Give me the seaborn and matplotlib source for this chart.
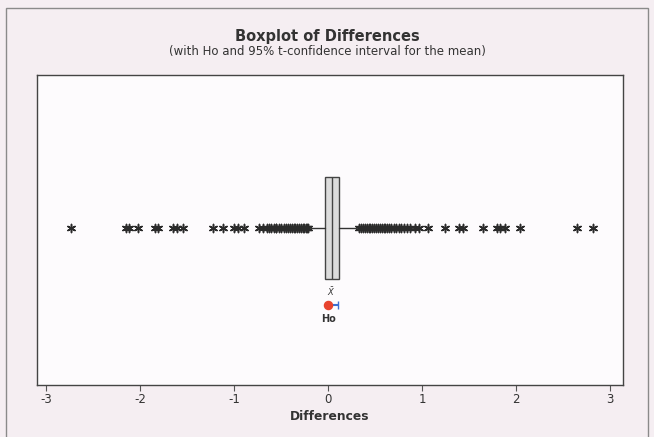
# plot.py
# Minitab-style boxplot of differences, with Ho and a 95% t-confidence interval for the mean.

import numpy as np
import pandas as pd
import seaborn as sns
import matplotlib.pyplot as plt
from matplotlib.patches import Rectangle

# --- data ---
box_q1 = -0.03
box_median = 0.04
box_q3 = 0.12
whisker_low = -0.18
whisker_high = 0.30

mean_diff = 0.057
ci_low = 0.013
ci_high = 0.102
h0_value = 0.0

low_outliers = [-2.74, -2.15, -2.12, -2.02, -1.84, -1.81, -1.65, -1.61, -1.55,
                -1.23, -1.12, -1.00, -0.96, -0.90, -0.74, -0.69,
                -0.65, -0.63, -0.61, -0.58, -0.56, -0.55, -0.52, -0.50, -0.47,
                -0.45, -0.43, -0.41, -0.38, -0.36, -0.35, -0.33, -0.31, -0.29,
                -0.27, -0.26, -0.24, -0.22, -0.21]
high_outliers = [0.33, 0.35, 0.37, 0.39, 0.41, 0.43, 0.45, 0.47, 0.49, 0.51,
                 0.53, 0.55, 0.57, 0.59, 0.61, 0.63, 0.65, 0.67, 0.70, 0.72,
                 0.75, 0.78, 0.81, 0.84, 0.87,
                 0.93, 0.97, 1.06, 1.24, 1.39, 1.44, 1.65, 1.80, 1.83, 1.88,
                 2.04, 2.65, 2.82]
x_ticks = [-3, -2, -1, 0, 1, 2, 3]

title = "Boxplot of Differences"
subtitle = "(with Ho and 95% t-confidence interval for the mean)"
x_label = "Differences"

outliers = pd.DataFrame({"diff": low_outliers + high_outliers})

# --- styling ---
sns.set_style("white")
plt.rcParams["font.family"] = ["DejaVu Sans"]

page = "#f5eef2"
fig = plt.figure(figsize=(6.54, 4.37), dpi=100, facecolor=page)
ax = fig.add_axes([37 / 654, 52 / 437, 586 / 654, 310 / 437])
ax.set_facecolor("#fdfbfd")

# outer graph frame
fig.patches.append(Rectangle((6 / 654, -0.02), 642 / 654, 1.0 - 8 / 437 + 0.02,
                             transform=fig.transFigure, fill=False,
                             edgecolor="#8a8a8a", linewidth=1.0, zorder=0))

box_y = 0.506
stats = [{
    "q1": box_q1, "med": box_median, "q3": box_q3,
    "whislo": whisker_low, "whishi": whisker_high,
    "fliers": [], "label": "",
}]
ax.bxp(stats, positions=[box_y], widths=0.33, orientation="horizontal",
       patch_artist=True, showcaps=False, showfliers=False,
       boxprops=dict(facecolor="#dcdcdc", edgecolor="#444444", linewidth=1.0),
       medianprops=dict(color="#444444", linewidth=1.0),
       whiskerprops=dict(color="#333333", linewidth=1.0))

# outliers as asterisks
outliers["y"] = box_y
sns.scatterplot(data=outliers, x="diff", y="y", ax=ax, marker=(6, 2, 0),
                s=34, color="#2b2b2b", linewidth=1.1, legend=False, zorder=3)

# confidence interval, mean and Ho
ci_y = 0.258
ax.plot([ci_low, ci_high], [ci_y, ci_y], color="#3b6fd4", linewidth=1.5, zorder=3)
ax.plot([ci_low, ci_high], [ci_y, ci_y], linestyle="none", marker="|",
        markersize=6, color="#3b6fd4", zorder=3)
ax.text(mean_diff - 0.03, 0.30, r"$\bar{X}$", ha="center", va="center",
        fontsize=6, color="#333333")
ax.scatter([h0_value], [ci_y], s=34, color="#e8432e", zorder=4)
ax.text(h0_value, 0.213, "Ho", ha="center", va="center", fontsize=7,
        fontweight="bold", color="#333333")

# axes
ax.set_xlim(-3.10, 3.14)
ax.set_ylim(0, 1)
ax.set_xticks(x_ticks)
ax.set_xticklabels([str(t) for t in x_ticks], fontsize=8.5, color="#333333")
ax.set_yticks([])
ax.set_xlabel(x_label, fontsize=8.8, fontweight="bold", color="#333333", labelpad=3)
ax.set_ylabel("")
ax.tick_params(axis="x", direction="out", length=4, width=0.8, color="#555555",
               bottom=True, pad=2)
for sp in ax.spines.values():
    sp.set_color("#444444")
    sp.set_linewidth(1.0)

fig.text(0.5, 1 - 37 / 437, title, ha="center", va="center", fontsize=10.5,
         fontweight="bold", color="#333333")
fig.text(0.5, 1 - 52 / 437, subtitle, ha="center", va="center", fontsize=8.5,
         color="#333333")

fig.savefig("out.png", dpi=100, facecolor=page)
